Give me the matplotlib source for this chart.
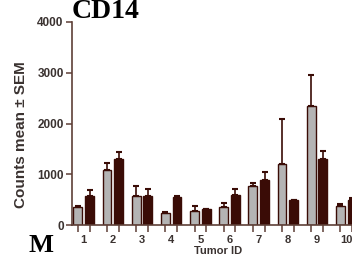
import numpy as np
import matplotlib
matplotlib.use('Agg')
import matplotlib.pyplot as plt

# values
tumors = ['1', '2', '3', '4', '5', '6', '7', '8', '9', '10']
grey_mean = [365, 1085, 580, 250, 290, 358, 780, 1200, 2346, 385]
grey_sem = [15, 135, 200, 20, 80, 80, 60, 893, 609, 40]
dark_mean = [585, 1310, 580, 555, 318, 600, 900, 490, 1300, 490]
dark_sem = [105, 140, 140, 15, 10, 115, 145, 10, 165, 40]

brown = '#3a0c06'
axcol = '#5e3f37'
txt = '#3a3230'

fig = plt.figure(figsize=(3.52, 2.58), dpi=100)
ax = fig.add_axes([72/352, 1-225.3/258, 1-72/352, (225.3-22)/258])

x = np.arange(1, len(tumors) + 1)
w = 0.3
off = 0.2
ax.bar(x - off, grey_mean, w, color='#b4b4b4', edgecolor=brown, linewidth=1.0,
       yerr=[np.zeros(len(x)), grey_sem], ecolor=brown,
       error_kw=dict(elinewidth=1.2, capsize=2.5, capthick=1.5), zorder=2)
ax.bar(x + off, dark_mean, w, color=brown, edgecolor=brown, linewidth=1.0,
       yerr=[np.zeros(len(x)), dark_sem], ecolor=brown,
       error_kw=dict(elinewidth=1.2, capsize=2.5, capthick=1.5), zorder=2)

ax.set_xlim(0.6, 10.12)
ax.set_ylim(0, 4000)
ax.set_yticks([0, 1000, 2000, 3000, 4000])
ax.set_xticks(np.concatenate([x - off, x + off]))
ax.set_xticklabels([])
ax.set_xticks(x, minor=True)
ax.set_xticklabels(tumors, minor=True)
ax.tick_params(axis='x', which='minor', length=0, pad=7, labelsize=8, labelcolor=txt)
ax.tick_params(axis='x', which='major', length=5, width=1.1, color=axcol)
ax.tick_params(axis='y', length=4, width=1.1, color=axcol, labelsize=8.5, labelcolor=txt, pad=2)
for lab in ax.get_yticklabels() + ax.get_xticklabels(minor=True):
    lab.set_fontweight('bold')
    lab.set_family('Liberation Sans')

for s in ['top', 'right']:
    ax.spines[s].set_visible(False)
for s in ['left', 'bottom']:
    ax.spines[s].set_color(axcol)
    ax.spines[s].set_linewidth(1.2)

fig.text(21/352, 1-135/258, 'Counts mean \u00b1 SEM', rotation=90, ha='center', va='center',
         fontsize=11, fontweight='bold', color=txt, family='Liberation Sans')
fig.text(218/352, 1-246/258, 'Tumor ID', ha='center', va='top', fontsize=8,
         fontweight='bold', color=txt, family='Liberation Sans')
fig.text(106/352, 1-18/258, 'CD14', ha='center', va='baseline', fontsize=20,
         fontweight='bold', family='Liberation Serif', color='black')
fig.text(41/352, 1-252.5/258, 'M', ha='center', va='baseline', fontsize=19,
         fontweight='bold', family='Liberation Serif', color='black')

fig.savefig('out.png', dpi=100)
